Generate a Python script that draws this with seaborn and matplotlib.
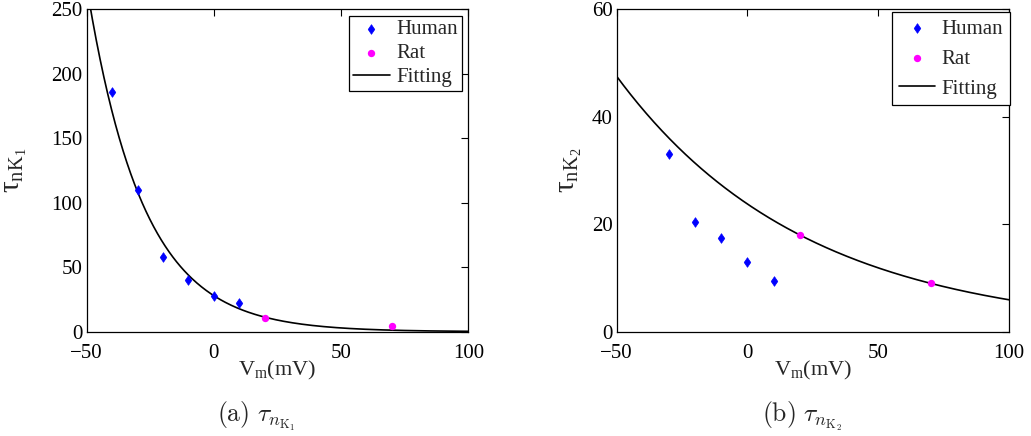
import numpy as np
import pandas as pd
import matplotlib
matplotlib.use("Agg")
import matplotlib.pyplot as plt
import seaborn as sns
from matplotlib.markers import MarkerStyle
from matplotlib.transforms import Affine2D

# ---------------- data ----------------
human_v = [-40, -30, -20, -10, 0, 10]
human_tau_k1 = [186, 110, 58, 40, 28, 22.5]
rat_v = [20, 70]
rat_tau_k1 = [10.3, 4.1]

human_v_k2 = [-30, -20, -10, 0, 10]
human_tau_k2 = [33, 20.5, 17.5, 13, 9.5]
rat_tau_k2 = [18, 9]

# fitted exponential parameters: tau = amp * exp(-V / decay)
fit_amp = [27.9, 23.76]
fit_decay = [22.1, 72.13]

x_ticks = [-50, 0, 50, 100]
y_ticks_k1 = [0, 50, 100, 150, 200, 250]
y_ticks_k2 = [0, 20, 40, 60]

# ---------------- style ----------------
sns.set_theme(style="white")
plt.rcParams["font.family"] = ["Liberation Serif", "DejaVu Serif"]
plt.rcParams["mathtext.fontset"] = "stix"

fig = plt.figure(figsize=(10.31, 4.36), dpi=100)
W, H = 1031, 436


def rect(x0, x1, y0, y1):
    return [x0 / W, 1 - y1 / H, (x1 - x0) / W, (y1 - y0) / H]


ax1 = fig.add_axes(rect(86.7, 468.3, 9.3, 331.7))
ax2 = fig.add_axes(rect(616.7, 1009, 9.3, 331.7))

v_grid = np.linspace(-50, 100, 400)

thin = MarkerStyle("D", transform=Affine2D().scale(0.68, 1.0))
thin_path = thin.get_path().transformed(thin.get_transform())

panels = [
    (ax1, human_v, human_tau_k1, rat_tau_k1, fit_amp[0], fit_decay[0], y_ticks_k1,
     r"$\mathregular{τ_{nK_1}}$", (0.9827, 0.980), 0.2, 0.2, (-0.150, 0.50)),
    (ax2, human_v_k2, human_tau_k2, rat_tau_k2, fit_amp[1], fit_decay[1], y_ticks_k2,
     r"$\mathregular{τ_{nK_2}}$", (1.0026, 0.9907), 0.5, 0.32, (-0.083, 0.50)),
]

for ax, hv, ht, rt, amp, dec, yt, ylab, anchor, lspace, bpad, lcoords in panels:
    df_h = pd.DataFrame({"V": hv, "tau": ht})
    df_r = pd.DataFrame({"V": rat_v, "tau": rt})
    df_f = pd.DataFrame({"V": v_grid, "tau": amp * np.exp(-v_grid / dec)})

    sns.scatterplot(data=df_h, x="V", y="tau", ax=ax, marker="D", color="#0000ff",
                    s=24, edgecolor="#0000ff", linewidth=0.5, label="Human", zorder=3)
    sns.scatterplot(data=df_r, x="V", y="tau", ax=ax, marker="o", color="#ff00ff",
                    s=28, edgecolor="#ff00ff", linewidth=0, label="Rat", zorder=3)
    sns.lineplot(data=df_f, x="V", y="tau", ax=ax, color="black", linewidth=1.2,
                 label="Fitting", zorder=2)

    ax.collections[0].set_paths([thin_path])

    ax.set_xlim(-50, 100)
    ax.set_ylim(yt[0], yt[-1])
    ax.set_xticks(x_ticks)
    ax.set_yticks(yt)
    ax.tick_params(direction="in", length=5, width=0.8, top=True, right=True,
                   labelsize=15, colors="black")
    ax.tick_params(axis="x", pad=9)
    ax.tick_params(axis="y", pad=3)
    for sp in ax.spines.values():
        sp.set_visible(True)
        sp.set_color("black")
        sp.set_linewidth(0.9)
    ax.set_facecolor("white")
    ax.grid(False)
    ax.set_xlabel(r"$\mathregular{V_m}$(mV)", fontsize=16, labelpad=-3)
    ax.set_ylabel(ylab, fontsize=21)
    ax.yaxis.set_label_coords(*lcoords)

    leg = ax.legend(loc="upper right", bbox_to_anchor=anchor, borderaxespad=0,
                    frameon=True, fancybox=False, shadow=False, fontsize=15,
                    handlelength=1.75, labelspacing=lspace, borderpad=bpad,
                    handletextpad=0.3, scatterpoints=1)
    leg.get_frame().set_edgecolor("black")
    leg.get_frame().set_linewidth(0.9)
    leg.get_frame().set_alpha(1)
    leg.legend_handles[0].set_paths([thin_path])

fig.text(256 / W, 1 - 416 / H, r"$\mathrm{(a)}\ \tau_{n_{\mathrm{K}_1}}$", ha="center",
         va="center", fontsize=18.5, math_fontfamily="cm")
fig.text(802 / W, 1 - 416 / H, r"$\mathrm{(b)}\ \tau_{n_{\mathrm{K}_2}}$", ha="center",
         va="center", fontsize=18.5, math_fontfamily="cm")

fig.savefig("out.png", dpi=100, facecolor="white")
